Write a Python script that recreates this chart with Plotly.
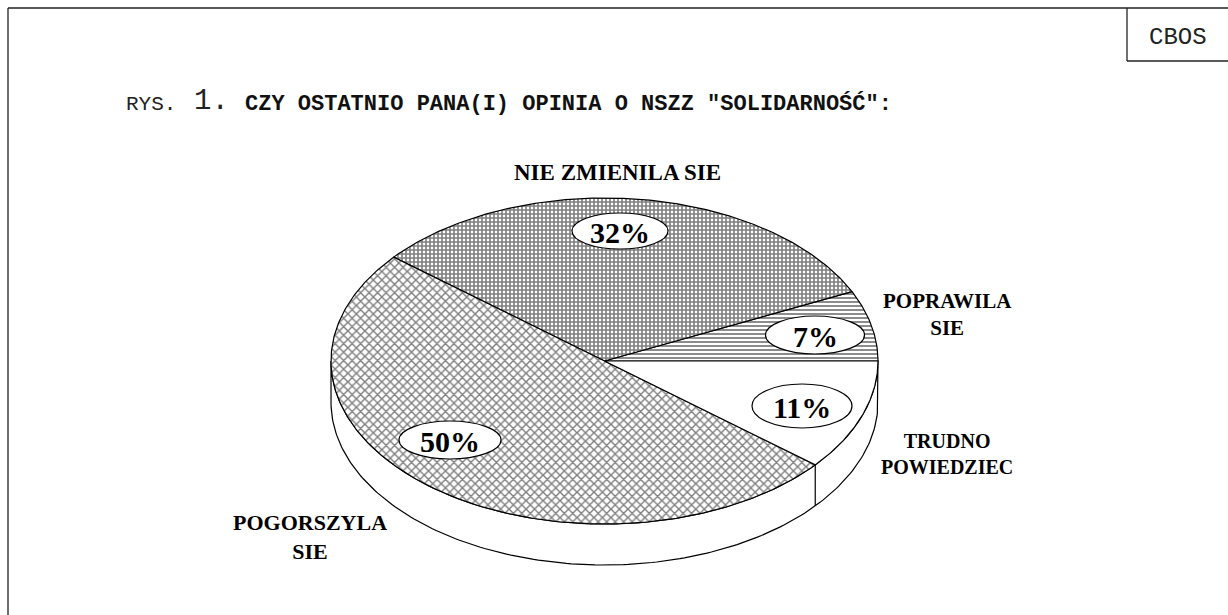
import numpy as np
import plotly.graph_objects as go

# ---------------- data ----------------
categories = ["POPRAWILA SIE", "NIE ZMIENILA SIE", "POGORSZYLA SIE", "TRUDNO POWIEDZIEC"]
values = [7, 32, 50, 11]
value_labels = ["7%", "32%", "50%", "11%"]
category_labels = ["POPRAWILA<br>SIE", "NIE ZMIENILA SIE", "POGORSZYLA<br>SIE", "TRUDNO<br>POWIEDZIEC"]
title_prefix = "RYS."
title_number = "1."
title_text = 'CZY OSTATNIO PANA(I) OPINIA O NSZZ "SOLIDARNOŚĆ":'
source_label = "CBOS"

# ---------------- layout constants ----------------
W, H = 1228, 615
CX, CY = 604.5, 361.0
RX, RY = 273.5, 163.0
DEPTH = 41.0

slice_patterns = [
    dict(shape="-", size=4, solidity=0.45, fgcolor="black", bgcolor="white"),
    dict(shape="+", size=4, solidity=0.65, fgcolor="black", bgcolor="white"),
    dict(shape="x", size=6, solidity=0.42, fgcolor="black", bgcolor="white"),
    None,
]
# value-label ellipses (center x, center y, width, height)
value_boxes = [(815, 335, 99, 38), (620, 231, 96, 36), (450, 440, 102, 38), (802, 406, 100, 44)]
# category label anchors (x, y, font size)
category_pos = [(947, 314, 21), (617, 172, 23), (310, 537, 22), (947, 454, 20)]

LINE = dict(color="black", width=1.2)


def ell(theta_deg, dy=0.0):
    t = np.radians(theta_deg)
    return CX + RX * np.cos(t), CY - RY * np.sin(t) + dy


fig = go.Figure()

# cumulative angles (counter-clockwise from 3 o'clock)
fr = np.array(values, dtype=float) / np.sum(values)
bounds = np.concatenate([[0.0], np.cumsum(fr) * 360.0])

# side wall (visible lower half)
th = np.linspace(180, 360, 181)
tx, ty = ell(th)
bx, by = ell(th[::-1], DEPTH)
fig.add_trace(go.Scatter(x=np.concatenate([tx, bx, tx[:1]]), y=np.concatenate([ty, by, ty[:1]]),
                         mode="lines", fill="toself", fillcolor="white", line=LINE,
                         hoverinfo="skip", showlegend=False))
# vertical dividers on the side wall
for b in bounds[1:-1]:
    if 180 < b < 360:
        x0, y0 = ell(b)
        fig.add_trace(go.Scatter(x=[x0, x0], y=[y0, y0 + DEPTH], mode="lines", line=LINE,
                                 hoverinfo="skip", showlegend=False))

# top slices
for i, cat in enumerate(categories):
    a0, a1 = bounds[i], bounds[i + 1]
    n = max(int(abs(a1 - a0) * 2), 8)
    th = np.linspace(a0, a1, n)
    px, py = ell(th)
    xs = np.concatenate([[CX], px, [CX]])
    ys = np.concatenate([[CY], py, [CY]])
    kw = dict(fillpattern=slice_patterns[i]) if slice_patterns[i] else {}
    fig.add_trace(go.Scatter(x=xs, y=ys, mode="lines", fill="toself", fillcolor="white",
                             line=LINE, name=cat, hoverinfo="name", showlegend=False, **kw))

shapes = []
annotations = []

# value labels in ellipses
for (bx_, by_, bw, bh), lab in zip(value_boxes, value_labels):
    shapes.append(dict(type="circle", xref="x", yref="y", x0=bx_ - bw / 2, x1=bx_ + bw / 2,
                       y0=by_ - bh / 2, y1=by_ + bh / 2, fillcolor="white",
                       line=dict(color="black", width=1.2), layer="above"))
    annotations.append(dict(x=bx_, y=by_ + 1, xref="x", yref="y", text="<b>" + lab + "</b>",
                            showarrow=False, xanchor="center", yanchor="middle",
                            font=dict(family="Liberation Serif", size=30, color="black")))

# category labels
for txt, (lx, ly, fs) in zip(category_labels, category_pos):
    annotations.append(dict(x=lx, y=ly, xref="x", yref="y", text="<b>" + txt + "</b>",
                            showarrow=False, xanchor="center", yanchor="middle",
                            font=dict(family="Liberation Serif", size=fs, color="black")))

# title
annotations.append(dict(x=124, y=104, xref="x", yref="y", text=title_prefix, showarrow=False,
                        xanchor="left", yanchor="middle",
                        font=dict(family="Liberation Mono", size=21, color="#222")))
annotations.append(dict(x=192, y=101, xref="x", yref="y", text=title_number, showarrow=False,
                        xanchor="left", yanchor="middle",
                        font=dict(family="Liberation Mono", size=29, color="#222")))
annotations.append(dict(x=243, y=104, xref="x", yref="y", text="<b>" + title_text + "</b>",
                        showarrow=False, xanchor="left", yanchor="middle",
                        font=dict(family="Liberation Mono", size=22, color="#111")))
# source box text
annotations.append(dict(x=1178, y=37, xref="x", yref="y", text=source_label, showarrow=False,
                        xanchor="center", yanchor="middle",
                        font=dict(family="Liberation Mono", size=24, color="#222")))

# page frame and source box
frame = dict(color="#222", width=1.3)
shapes += [
    dict(type="line", xref="x", yref="y", x0=8, x1=W, y0=8, y1=8, line=frame),
    dict(type="line", xref="x", yref="y", x0=8, x1=8, y0=8, y1=H, line=frame),
    dict(type="line", xref="x", yref="y", x0=1127, x1=1127, y0=8, y1=61, line=frame),
    dict(type="line", xref="x", yref="y", x0=1127, x1=W, y0=61, y1=61, line=frame),
]

fig.update_layout(
    width=W, height=H, margin=dict(l=0, r=0, t=0, b=0),
    paper_bgcolor="white", plot_bgcolor="white",
    xaxis=dict(range=[0, W], visible=False, fixedrange=True),
    yaxis=dict(range=[H, 0], visible=False, fixedrange=True),
    shapes=shapes, annotations=annotations, showlegend=False,
)
fig.write_html("out.html", config={"displayModeBar": False},
               post_script="document.body.style.margin='0px';document.body.style.overflow='hidden';")
